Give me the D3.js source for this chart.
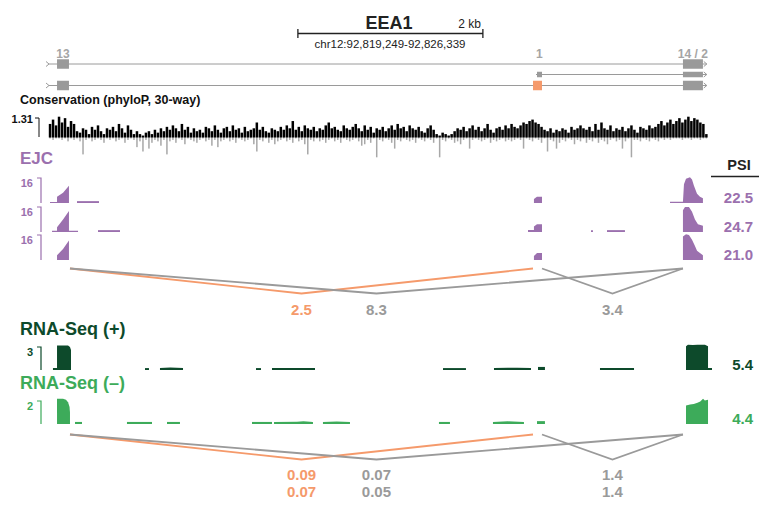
<!DOCTYPE html>
<html lang="en">
<head>
<meta charset="utf-8">
<title>EEA1</title>
<style>
  body { margin:0; background:#fff; }
  svg { display:block; }
  text { font-family: "Liberation Sans", Arial, Helvetica, sans-serif; }
</style>
<script src="https://d3js.org/d3.v7.min.js"></script>
</head>
<body>
<script>
// region shown, positions in kb from chr12:92,819,249
var regionLabel = "chr12:92,819,249-92,826,339";
var regionKb = 7.09;
var scaleBarKb = 2, scaleBarStart = 2.68;

// isoforms: exon [start, end] in kb, hl = alternative exon
var isoStart = [0, 5.265, 0];
var isoExons = [
  [[0.076, 0.205], [6.843, 7.059]],
  [[5.265, 5.319], [6.843, 7.059]],
  [[0.076, 0.205], [5.222, 5.319, "hl"], [6.843, 7.059]]
];
var exonNames = [["13", 0.14], ["1", 5.29], ["14 / 2", 6.95]];

// phyloP 30-way, one value per 32 bp bin
var consStep = 0.0324;
var consPos = [0.9,1.2,0.8,1.4,1.0,1.3,0.7,1.1,0.9,0.4, 0.3,0.6,0.5,0.2,0.7,0.5,0.8,0.4,0.2,0.6,
  0.5,0.7,0.4,0.9,0.6,0.3,0.8,0.5,0.2,0.4, 0.2,0.1,0.3,0.4,0.2,0.5,0.3,0.6,0.4,0.7,
  0.5,0.8,0.6,0.4,0.9,0.5,0.7,0.3,0.6,0.4, 0.5,0.3,0.7,0.6,0.4,0.8,0.5,0.3,0.6,0.7,
  0.4,0.8,0.5,0.6,0.3,0.7,0.4,0.5,0.6,1.0, 0.5,0.7,0.4,0.3,0.6,0.5,0.4,0.7,0.5,0.8,
  0.6,1.1,0.5,0.7,0.4,0.8,0.6,0.5,0.7,0.4, 0.6,0.5,0.8,1.0,0.6,0.7,0.5,0.4,0.8,0.6,
  0.5,0.7,0.9,0.6,0.4,0.8,0.5,0.7,0.3,0.6, 0.5,0.7,0.4,0.6,0.8,0.5,0.9,0.6,0.7,0.4,
  0.8,0.6,0.5,0.7,0.4,0.3,0.6,0.8,0.5,0.2, 0.1,0.3,0.2,0.1,0.2,0.4,0.6,0.5,0.7,0.4,
  0.6,0.8,0.5,0.7,0.4,0.6,0.9,0.5,0.3,0.6, 0.7,0.5,0.8,0.6,0.9,0.7,0.6,0.8,1.0,0.9,
  1.1,1.2,1.0,0.9,0.7,0.5,0.4,0.6,0.3,0.5, 0.4,0.6,0.5,0.3,0.7,0.5,0.6,0.8,0.6,0.5,
  0.7,0.4,0.9,0.5,1.0,0.6,0.5,0.8,0.4,0.6, 0.5,0.7,0.4,0.6,0.8,0.5,0.3,0.7,0.6,0.5,
  0.8,0.6,0.7,0.9,1.1,0.8,1.0,1.2,0.9,1.1, 1.3,1.0,1.2,1.4,1.1,1.3,1.2,1.0,0.9,0.2];
var consNeg = [0.1,0.2,0.1,0.1,0.2,0.1,0.3,0.1,0.2,0.1, 0.3,1.2,0.2,0.1,0.3,0.2,0.1,0.2,0.4,0.1,
  0.2,0.1,0.3,0.2,0.1,0.4,0.2,0.1,0.2,0.7, 0.3,1.0,0.2,0.8,0.4,0.2,0.3,0.6,0.2,1.2,
  0.3,0.2,0.4,0.1,0.2,0.5,0.1,0.2,0.3,0.4, 0.2,0.1,0.3,0.2,0.6,0.2,0.7,0.3,0.2,0.1,
  0.3,0.2,0.4,0.1,0.2,0.3,0.2,0.1,0.5,1.0, 0.2,0.3,0.1,0.4,0.2,0.5,0.3,0.2,0.1,0.3,
  0.2,0.4,0.1,0.3,0.2,0.5,1.2,0.2,0.3,0.1, 0.3,0.2,0.4,0.2,0.1,0.3,0.2,0.4,0.1,0.2,
  0.3,0.2,0.1,0.3,0.6,0.5,0.2,0.4,0.1,1.4, 0.2,0.3,0.1,0.2,0.4,0.8,0.2,0.3,0.1,0.2,
  0.3,0.2,0.4,0.1,0.2,0.3,0.1,0.2,0.4,0.1, 1.4,0.2,0.3,0.1,0.2,0.4,0.3,0.5,0.2,0.1,
  0.8,0.2,0.1,0.2,0.3,0.2,0.1,0.4,0.2,0.3, 0.2,0.1,0.3,0.2,0.3,0.2,0.1,0.2,0.8,0.1,
  0.2,0.3,0.1,0.2,0.4,0.1,1.0,0.2,0.3,0.8, 0.4,0.2,0.3,0.1,0.2,0.5,0.2,0.3,0.1,0.4,
  0.2,0.3,0.1,0.4,0.2,0.3,0.5,0.2,0.1,0.3, 0.2,0.8,0.3,0.1,1.4,0.2,0.2,0.3,0.1,0.2,
  0.3,0.1,0.2,0.3,0.1,0.2,0.1,0.2,0.1,0.1, 0.1,0.2,0.1,0.1,0.2,0.1,0.1,0.2,0.1,0.1];

// EJC coverage, [kb, reads]
var ejc1 = [
  [[0,0.6],[0.076,0.6],[0.076,4],[0.141,6.5],[0.205,11],[0.205,0]],
  [[0.292,1.2],[0.530,1.2]],
  [[5.232,2.5],[5.254,3.5],[5.265,4],[5.319,4]],
  [[6.703,0.8],[6.843,0.8],[6.854,12],[6.876,15.5],[6.919,16.5],[6.941,15],[6.962,11],[6.995,6],[7.027,4],[7.059,3],[7.059,0]]
];
var ejc2 = [
  [[0.022,0.8],[0.076,0.8],[0.076,3],[0.141,8],[0.205,13.5],[0.205,0.8],[0.303,0.8]],
  [[0.519,1.2],[0.757,1.2]],
  [[5.168,1.3],[5.232,1.3],[5.232,3.5],[5.265,5],[5.319,5]],
  [[5.849,1.2],[5.870,1.2]],
  [[6.022,1.2],[6.216,1.2]],
  [[6.843,0],[6.843,14],[6.865,16],[6.908,16],[6.941,13],[6.973,8],[7.005,5],[7.059,4]]
];
var ejc3 = [
  [[0.076,0],[0.076,3],[0.141,7],[0.205,12.5],[0.205,0]],
  [[5.232,2.5],[5.265,4.5],[5.319,4.5]],
  [[6.843,0],[6.843,15],[6.876,16.5],[6.908,16],[6.941,13],[6.973,9],[6.995,6],[7.027,4.5],[7.059,3]]
];
var ejcMax = 16;
var ejcPsi = ["22.5", "24.7", "21.0"];

// RNA-Seq coverage
var rnaPlus = [
  [[0.032,0.25],[0.076,0.25],[0.076,3.2],[0.195,3.2],[0.216,3.0],[0.227,2.6],[0.227,0]],
  [[1.027,0.25],[1.070,0.25]],
  [[1.189,0.25],[1.30,0.32],[1.438,0.25]],
  [[2.227,0.25],[2.281,0.25]],
  [[2.400,0.25],[2.865,0.25]],
  [[4.249,0.25],[4.497,0.25]],
  [[4.800,0.25],[4.95,0.3],[5.05,0.3],[5.200,0.25]],
  [[5.276,0.4],[5.351,0.4]],
  [[5.946,0.25],[6.314,0.25]],
  [[6.876,0],[6.876,3.1],[6.897,3.3],[6.95,3.25],[7.0,3.3],[7.081,3.3],[7.114,3.1],[7.114,0.25],[7.157,0.25]]
];
var rnaMinus = [
  [[0.076,0],[0.076,2.2],[0.141,2.2],[0.173,2.1],[0.195,1.9],[0.211,1.5],[0.216,1.0],[0.216,0]],
  [[0.270,0.18],[0.346,0.18]],
  [[0.832,0.18],[1.103,0.18]],
  [[1.265,0.18],[1.405,0.18]],
  [[2.184,0.18],[2.400,0.18]],
  [[2.422,0.18],[2.670,0.2],[2.74,0.24],[2.811,0.2],[2.843,0.18]],
  [[2.951,0.18],[3.10,0.22],[3.243,0.18]],
  [[4.205,0.18],[4.324,0.18]],
  [[4.789,0.18],[4.95,0.23],[5.124,0.18]],
  [[5.265,0.25],[5.351,0.25]],
  [[6.876,0],[6.876,1.6],[6.92,1.7],[6.96,1.75],[7.0,1.85],[7.03,1.95],[7.06,2.2],[7.08,2.05],[7.114,2.1],[7.114,0]]
];
var rnaMax = [3, 2];
var rnaTotals = ["5.4", "4.4"];

// junctions: donor, acceptor (kb), alternative?, values
var juncStart = [0.216, 0.216, 5.319];
var juncEnd = [5.222, 6.843, 6.843];
var juncAlt = [true, false, false];
var ejcJunc = ["2.5", "8.3", "3.4"];
var rnaJuncPlus = ["0.09", "0.07", "1.4"];
var rnaJuncMinus = ["0.07", "0.05", "1.4"];

var purple = "#9b70ae", orange = "#f59a6b", grey = "#9a9a9a",
    dkgreen = "#0d4a2b", green = "#3dab5a";

var width = 759, height = 519;
var svg = d3.select("body").append("svg")
  .attr("width", width).attr("height", height);

var x = d3.scaleLinear().domain([0, regionKb]).range([50, 705.8]);

// ---- header
svg.append("text").attr("x", 389).attr("y", 29).attr("text-anchor", "middle")
  .style("font-size", "18px").style("font-weight", "bold").style("fill", "#222").text("EEA1");
var sb0 = x(scaleBarStart), sb1 = x(scaleBarStart + scaleBarKb);
svg.append("path")
  .attr("d", "M" + sb0 + ",29V38M" + sb0 + ",33.5H" + sb1 + "M" + sb1 + ",29V38")
  .style("stroke", "#222").style("stroke-width", 1.3).style("fill", "none");
svg.append("text").attr("x", sb1 - 2).attr("y", 28).attr("text-anchor", "end")
  .style("font-size", "12px").style("fill", "#222").text(scaleBarKb + " kb");
svg.append("text").attr("x", 390).attr("y", 48).attr("text-anchor", "middle")
  .style("font-size", "11.5px").style("fill", "#222").text(regionLabel);

// ---- gene models
var isoY = [64, 74.5, 85.5];
exonNames.forEach(function(d) {
  svg.append("text").attr("x", x(d[1])).attr("y", 58).attr("text-anchor", "middle")
    .style("font-size", "12px").style("font-weight", "bold").style("fill", "#a5a5a5").text(d[0]);
});
isoExons.forEach(function(exons, i) {
  var y = isoY[i];
  var g = svg.append("g");
  g.append("line").attr("x1", x(isoStart[i]) - 1).attr("x2", x(regionKb) + 1)
    .attr("y1", y).attr("y2", y).style("stroke", grey).style("stroke-width", 1);
  var r = x(regionKb) + 1;
  g.append("path").attr("d", "M" + (r - 3) + "," + (y - 2.5) + "L" + r + "," + y + "L" + (r - 3) + "," + (y + 2.5))
    .style("stroke", grey).style("fill", "none");
  if (isoStart[i] == 0) {
    var l = x(0) - 1;
    g.append("path").attr("d", "M" + (l - 3) + "," + (y - 2.5) + "L" + l + "," + y + "L" + (l - 3) + "," + (y + 2.5))
      .style("stroke", grey).style("fill", "none");
  }
  var h = i == 1 ? 5.5 : 9.5;
  g.selectAll("rect").data(exons).enter().append("rect")
    .attr("x", function(e) { return x(e[0]); })
    .attr("width", function(e) { return x(e[1]) - x(e[0]); })
    .attr("y", y - h / 2).attr("height", h)
    .style("fill", function(e) { return e[2] ? orange : grey; });
});

// ---- conservation
svg.append("text").attr("x", 20).attr("y", 104)
  .style("font-size", "12.5px").style("font-weight", "bold").style("fill", "#111")
  .text("Conservation (phyloP, 30-way)");
var cy = d3.scaleLinear().domain([0, 1.31]).range([137, 118]);
svg.append("path").attr("d", "M35," + cy(1.31) + "H39V" + cy(0))
  .style("stroke", "#111").style("fill", "none");
svg.append("text").attr("x", 33).attr("y", 123).attr("text-anchor", "end")
  .style("font-size", "11px").style("font-weight", "bold").style("fill", "#111").text("1.31");
svg.append("g").selectAll("rect").data(consNeg).enter().append("rect")
  .attr("x", function(d, i) { return x(i * consStep) - 0.7; }).attr("width", 1.5)
  .attr("y", cy(0))
  .attr("height", function(d) { return cy(-d) - cy(0); })
  .style("fill", "#a8a8a8");
svg.append("g").selectAll("rect").data(consPos).enter().append("rect")
  .attr("x", function(d, i) { return x(i * consStep) - 1.2; }).attr("width", 2.5)
  .attr("y", function(d) { return cy(d); })
  .attr("height", function(d) { return cy(0) - cy(d) + 0.5; })
  .style("fill", "#000");

// ---- coverage track helper
function drawTrack(blocks, base, trackH, maxV, col, label) {
  var y = d3.scaleLinear().domain([0, maxV]).range([base, base - trackH]);
  var area = d3.area().x(function(d) { return x(d[0]); })
    .y0(base).y1(function(d) { return y(d[1]); });
  var g = svg.append("g");
  g.selectAll("path.cov").data(blocks).enter().append("path").attr("class", "cov")
    .attr("d", area).style("fill", col);
  g.append("path").attr("d", "M37," + y(maxV) + "H41V" + base)
    .style("stroke", col).style("stroke-width", 1.2).style("fill", "none");
  g.append("text").attr("x", 33).attr("y", y(maxV) + 8.5).attr("text-anchor", "end")
    .style("font-size", "11px").style("font-weight", "bold").style("fill", col).text(label);
}

function drawJunctions(y0, depth, labels, labelY) {
  var line = d3.line().x(function(d) { return x(d[0]); }).y(function(d) { return d[1]; });
  [0, 1, 2].forEach(function(i) {
    var s = juncStart[i], e = juncEnd[i], m = (s + e) / 2;
    var col = juncAlt[i] ? orange : grey;
    svg.append("path").attr("d", line([[s, y0], [m, y0 + depth], [e, y0]]))
      .style("stroke", col).style("stroke-width", 1.8).style("fill", "none");
    labels.forEach(function(lab, k) {
      svg.append("text").attr("x", x(m)).attr("y", labelY[k]).attr("text-anchor", "middle")
        .style("font-size", "15px").style("font-weight", "bold").style("fill", col).text(lab[i]);
    });
  });
}

// ---- EJC
svg.append("text").attr("x", 20).attr("y", 164)
  .style("font-size", "17px").style("font-weight", "bold").style("fill", purple).text("EJC");
var ejcBase = [203, 232, 260];
[ejc1, ejc2, ejc3].forEach(function(t, i) {
  drawTrack(t, ejcBase[i], 25, ejcMax, purple, String(ejcMax));
  svg.append("text").attr("x", 753).attr("y", ejcBase[i] - 0.5).attr("text-anchor", "end")
    .style("font-size", "15px").style("font-weight", "bold").style("fill", purple).text(ejcPsi[i]);
});
svg.append("text").attr("x", 739).attr("y", 170).attr("text-anchor", "middle")
  .style("font-size", "14.5px").style("font-weight", "bold").style("fill", "#222").text("PSI");
svg.append("line").attr("x1", 711).attr("x2", 759).attr("y1", 176.5).attr("y2", 176.5)
  .style("stroke", "#222").style("stroke-width", 1.3);
drawJunctions(268.5, 25, [ejcJunc], [315]);

// ---- RNA-Seq
svg.append("text").attr("x", 20).attr("y", 335)
  .style("font-size", "18px").style("font-weight", "bold").style("fill", dkgreen).text("RNA-Seq (+)");
drawTrack(rnaPlus, 370, 23, rnaMax[0], dkgreen, String(rnaMax[0]));
svg.append("text").attr("x", 753).attr("y", 370).attr("text-anchor", "end")
  .style("font-size", "15px").style("font-weight", "bold").style("fill", dkgreen).text(rnaTotals[0]);

svg.append("text").attr("x", 20).attr("y", 389)
  .style("font-size", "18px").style("font-weight", "bold").style("fill", green).text("RNA-Seq (\u2013)");
drawTrack(rnaMinus, 424, 23, rnaMax[1], green, String(rnaMax[1]));
svg.append("text").attr("x", 753).attr("y", 424).attr("text-anchor", "end")
  .style("font-size", "15px").style("font-weight", "bold").style("fill", green).text(rnaTotals[1]);

drawJunctions(434.5, 25, [rnaJuncPlus, rnaJuncMinus], [480, 497]);
</script>
</body>
</html>
